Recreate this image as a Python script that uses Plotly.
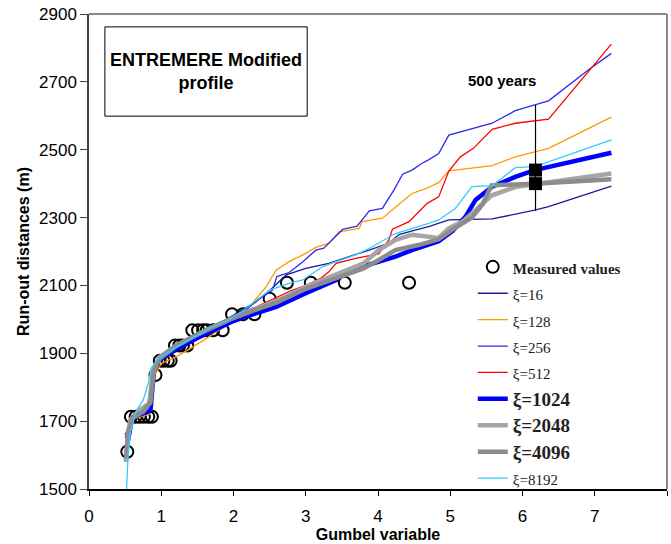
import plotly.graph_objects as go

# ---------------- data ----------------
measured_x = [0.53, 0.58, 0.645, 0.70, 0.76, 0.82, 0.87, 0.92, 0.98, 1.03, 1.09, 1.13,
              1.19, 1.25, 1.30, 1.36, 1.43, 1.51, 1.58, 1.63, 1.72, 1.85,
              1.98, 2.13, 2.29, 2.50, 2.74, 3.07, 3.54, 4.43]
measured_y = [1610, 1713, 1713, 1713, 1713, 1713, 1713, 1836, 1878, 1878, 1878, 1878,
              1923, 1923, 1923, 1923, 1968, 1968, 1968, 1968, 1968, 1968,
              2015, 2015, 2015, 2061, 2108, 2108, 2108, 2108]

xi16_x = [0.50, 0.55, 0.60, 0.75, 0.85, 0.90, 0.97, 1.10, 1.30, 1.50, 1.70, 1.90, 2.10, 2.30, 2.50,
          2.73, 3.00, 3.32, 3.60, 3.88, 4.15, 4.29, 4.50, 4.70, 4.98, 5.58, 6.17, 6.36, 7.23]
xi16_y = [1650, 1680, 1712, 1725, 1760, 1850, 1880, 1895, 1925, 1950, 1975, 2000, 2025, 2050, 2085,
          2131, 2150, 2165, 2185, 2204, 2225, 2250, 2262, 2273, 2293, 2296, 2322, 2332, 2393]

xi128_x = [0.52, 0.58, 0.75, 0.84, 0.85, 0.92, 1.00, 1.21, 1.44, 1.62, 1.85, 2.13, 2.31, 2.45, 2.59,
           2.77, 2.96, 3.14, 3.32, 3.46, 3.74, 3.78, 4.06, 4.22, 4.34, 4.47, 4.66, 4.84, 4.98,
           5.58, 5.90, 6.36, 7.23]
xi128_y = [1640, 1705, 1715, 1720, 1775, 1840, 1870, 1890, 1919, 1944, 1974, 2013, 2060, 2096, 2145,
           2170, 2190, 2212, 2224, 2258, 2268, 2288, 2298, 2327, 2350, 2371, 2385, 2403, 2438,
           2453, 2479, 2504, 2596]

xi256_x = [0.50, 0.60, 0.80, 0.88, 0.97, 1.20, 1.50, 1.80, 2.00, 2.17, 2.35, 2.54, 2.60, 2.77, 2.96,
           3.14, 3.25, 3.42, 3.51, 3.71, 3.78, 3.88, 4.06, 4.22, 4.34, 4.47, 4.61, 4.70, 4.84,
           4.98, 5.58, 5.90, 6.17, 6.36, 6.91, 7.23]
xi256_y = [1660, 1712, 1730, 1850, 1880, 1915, 1955, 1985, 2010, 2027, 2060, 2086, 2126, 2138, 2170,
           2204, 2210, 2244, 2265, 2275, 2293, 2320, 2327, 2381, 2428, 2440, 2460, 2470, 2489,
           2543, 2578, 2615, 2632, 2644, 2735, 2784]

xi512_x = [0.52, 0.60, 0.85, 0.90, 0.97, 1.20, 1.50, 1.80, 2.00, 2.20, 2.50, 2.80, 3.00, 3.20, 3.32,
           3.42, 3.69, 4.01, 4.15, 4.20, 4.43, 4.52, 4.68, 4.84, 4.98, 5.14, 5.32, 5.58, 5.90,
           6.36, 7.23]
xi512_y = [1650, 1712, 1730, 1850, 1880, 1912, 1950, 1980, 2005, 2025, 2055, 2085, 2100, 2120, 2140,
           2165, 2180, 2193, 2234, 2266, 2288, 2307, 2342, 2361, 2437, 2479, 2504, 2560, 2578,
           2590, 2811]

xi1024_x = [0.52, 0.60, 0.85, 0.90, 0.97, 1.20, 1.50, 1.80, 2.00, 2.20, 2.59, 3.00, 3.42, 3.55, 4.01,
            4.24, 4.47, 4.84, 5.03, 5.21, 5.35, 5.58, 5.90, 6.17, 7.23]
xi1024_y = [1620, 1712, 1730, 1850, 1880, 1910, 1945, 1975, 1995, 2010, 2037, 2077, 2116, 2140, 2170,
            2185, 2204, 2230, 2260, 2302, 2352, 2391, 2420, 2440, 2491]

xi2048_x = [0.51, 0.54, 0.57, 0.70, 0.84, 0.88, 0.97, 1.21, 1.44, 1.67, 1.90, 2.10, 2.30, 2.60, 3.00,
            3.40, 3.80, 4.01, 4.24, 4.47, 4.84, 4.98, 5.17, 5.35, 5.57, 5.90, 6.17, 7.23]
xi2048_y = [1580, 1664, 1703, 1733, 1753, 1845, 1888, 1924, 1949, 1974, 1995, 2015, 2030, 2055, 2096,
            2130, 2165, 2204, 2234, 2249, 2240, 2268, 2288, 2322, 2365, 2390, 2398, 2430]

xi4096_x = [0.51, 0.55, 0.60, 0.75, 0.85, 0.90, 0.98, 1.20, 1.45, 1.70, 1.95, 2.20, 2.60, 3.00, 3.40,
            3.80, 4.01, 4.24, 4.56, 4.84, 5.07, 5.30, 5.45, 5.57, 6.17, 7.23]
xi4096_y = [1590, 1670, 1710, 1728, 1755, 1850, 1885, 1920, 1950, 1975, 2000, 2020, 2050, 2090, 2120,
            2150, 2175, 2204, 2219, 2236, 2270, 2300, 2340, 2395, 2400, 2413]

xi8192_x = [0.52, 0.54, 0.57, 0.66, 0.75, 0.82, 0.86, 0.96, 1.21, 1.49, 1.67, 1.90, 2.10, 2.50, 2.77,
            2.96, 3.23, 3.42, 3.69, 3.88, 4.24, 4.70, 4.84, 5.07, 5.30, 5.58, 5.90, 6.17, 7.23]
xi8192_y = [1500, 1595, 1664, 1733, 1762, 1811, 1856, 1885, 1919, 1954, 1974, 1995, 2020, 2086, 2106,
            2116, 2155, 2170, 2190, 2209, 2253, 2283, 2293, 2327, 2391, 2394, 2447, 2450, 2529]

return_x = [6.18, 6.18]
return_y = [2440, 2400]
return_range = [2320, 2632]

x_ticks = [0, 1, 2, 3, 4, 5, 6, 7, 8]
y_ticks = [1500, 1700, 1900, 2100, 2300, 2500, 2700, 2900]

# ---------------- figure ----------------
fig = go.Figure()

fig.add_trace(go.Scatter(
    x=measured_x, y=measured_y, mode="markers",
    name="<b><span style='font-size:15px'>Measured values</span></b>",
    marker=dict(symbol="circle-open", size=12, color="black", line=dict(width=2, color="black")),
))

series = [
    ("ξ=16", xi16_x, xi16_y, "#1a1a99", 1.3, False),
    ("ξ=128", xi128_x, xi128_y, "#ff9900", 1.3, False),
    ("ξ=256", xi256_x, xi256_y, "#2a2af0", 1.3, False),
    ("ξ=512", xi512_x, xi512_y, "#ff0000", 1.3, False),
    ("ξ=1024", xi1024_x, xi1024_y, "#0000ff", 4.5, True),
    ("ξ=2048", xi2048_x, xi2048_y, "#a6a6a6", 4.5, True),
    ("ξ=4096", xi4096_x, xi4096_y, "#8c8c8c", 4.5, True),
    ("ξ=8192", xi8192_x, xi8192_y, "#33ccff", 1.3, False),
]
for name, xs, ys, col, w, bold in series:
    if bold:
        label = "<b><span style='font-size:19px'>%s</span></b>" % name
    else:
        label = "<span style='font-size:15px'>%s</span>" % name
    fig.add_trace(go.Scatter(x=xs, y=ys, mode="lines", name=label,
                             line=dict(color=col, width=w)))

# 500-year range line and squares
fig.add_trace(go.Scatter(x=[return_x[0], return_x[0]], y=return_range, mode="lines",
                         line=dict(color="black", width=1.2), showlegend=False, hoverinfo="skip"))
fig.add_trace(go.Scatter(x=return_x, y=return_y, mode="markers",
                         marker=dict(symbol="square", size=13, color="black"),
                         showlegend=False))

fig.add_annotation(x=5.72, y=2705, text="<b>500 years</b>", showarrow=False,
                   font=dict(family="Arial, Liberation Sans", size=15, color="black"))

# title box
fig.add_shape(type="rect", x0=0.22, x1=3.02, y0=2599, y1=2862,
              line=dict(color="black", width=1), fillcolor="rgba(0,0,0,0)")
fig.add_annotation(x=1.62, y=2732, text="<b>ENTREMERE Modified<br>profile</b>", showarrow=False,
                   font=dict(family="Arial, Liberation Sans", size=18, color="black"))

# top/right frame
fig.add_shape(type="line", xref="paper", yref="paper", x0=0, x1=1, y0=1, y1=1,
              line=dict(color="#888888", width=2))
fig.add_shape(type="line", xref="paper", yref="paper", x0=1, x1=1, y0=0, y1=1,
              line=dict(color="#888888", width=2))

axis_font = dict(family="Arial, Liberation Sans", size=16, color="black")
fig.update_layout(
    width=671, height=544,
    margin=dict(l=89, r=4, t=14, b=55),
    paper_bgcolor="white", plot_bgcolor="white",
    font=dict(family="Arial, Liberation Sans", color="black"),
    xaxis=dict(range=[0, 8], tickvals=x_ticks, ticktext=[str(v) for v in x_ticks],
               showgrid=False, zeroline=False, showline=True, linecolor="black", linewidth=1.5,
               ticks="outside", ticklen=5, tickcolor="black", ticklabelstandoff=6,
               tickfont=dict(family="Arial, Liberation Sans", size=17, color="black"),
               tickprefix="<b>", ticksuffix="</b>",
               title=dict(text="<b>Gumbel variable</b>", font=axis_font, standoff=0)),
    yaxis=dict(range=[1500, 2900], tickvals=y_ticks,
               showgrid=False, zeroline=False, showline=True, linecolor="#444444", linewidth=1.5,
               ticks="outside", ticklen=7, tickcolor="#444444",
               tickfont=dict(family="Arial, Liberation Sans", size=17, color="black"),
               tickprefix="<b>", ticksuffix="</b>",
               title=dict(text="<b>Run-out distances (m)</b>", font=axis_font, standoff=5)),
    legend=dict(x=0.664, y=0.506, xanchor="left", yanchor="top",
                bgcolor="rgba(0,0,0,0)", borderwidth=0,
                font=dict(family="Times New Roman, Liberation Serif", size=18, color="#222222"),
                tracegroupgap=0),
    showlegend=True,
)

fig.write_html("out.html")
